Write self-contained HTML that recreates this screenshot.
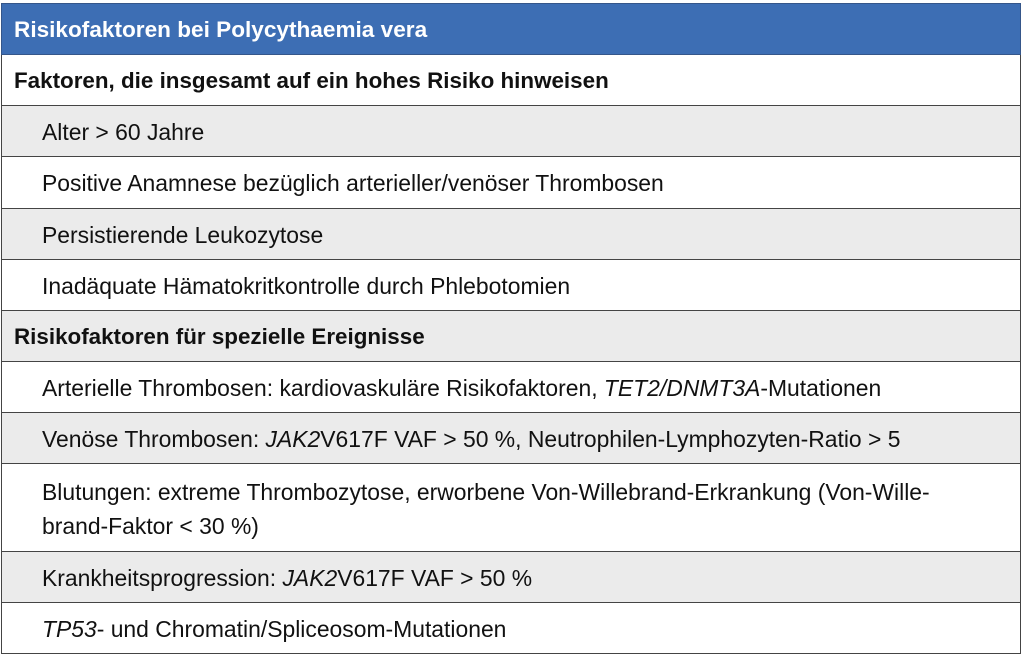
<!DOCTYPE html>
<html><head><meta charset="utf-8"><style>
body{margin:0;width:1024px;height:670px;background:#fff;position:relative;font-family:"Liberation Sans",sans-serif;color:#111;overflow:hidden}
.r{position:absolute;left:1px;width:1020px;border:1px solid #444;border-top:none;box-sizing:border-box;font-size:22.9px;line-height:26px;white-space:nowrap}
.g{background:#ebebeb}
.h{background:#3d6eb4;color:#fff;top:3px;height:52px;border:1px solid #35568a;padding:13px 0 0 12px;font-size:22.6px;font-weight:bold}
.b{font-weight:bold;padding-left:12px;font-size:22.4px}
.n{padding-left:40px}
</style></head><body>
<div class="r h">Risikofaktoren bei Polycythaemia vera</div>
<div class="r b" style="top:55px;height:51px;padding-top:13px">Faktoren, die insgesamt auf ein hohes Risiko hinweisen</div>
<div class="r n g" style="top:106px;height:51px;padding-top:13px">Alter &gt; 60 Jahre</div>
<div class="r n" style="top:157px;height:52px;padding-top:13px">Positive Anamnese bezüglich arterieller/venöser Thrombosen</div>
<div class="r n g" style="top:209px;height:51px;padding-top:13px">Persistierende Leukozytose</div>
<div class="r n" style="top:260px;height:51px;padding-top:13px">Inadäquate Hämatokritkontrolle durch Phlebotomien</div>
<div class="r b g" style="top:311px;height:51px;padding-top:13px">Risikofaktoren für spezielle Ereignisse</div>
<div class="r n" style="top:362px;height:51px;padding-top:13px">Arterielle Thrombosen: kardiovaskuläre Risikofaktoren, <i>TET2/DNMT3A</i>-Mutationen</div>
<div class="r n g" style="top:413px;height:51px;padding-top:13px">Venöse Thrombosen: <i>JAK2</i>V617F VAF &gt; 50 %, Neutrophilen-Lymphozyten-Ratio &gt; 5</div>
<div class="r n" style="top:464px;height:88px;padding-top:11px;line-height:34px">Blutungen: extreme Thrombozytose, erworbene Von-Willebrand-Erkrankung (Von-Wille-<br>brand-Faktor &lt; 30 %)</div>
<div class="r n g" style="top:552px;height:51px;padding-top:13px">Krankheitsprogression: <i>JAK2</i>V617F VAF &gt; 50 %</div>
<div class="r n" style="top:603px;height:51px;padding-top:13px"><i>TP53</i>- und Chromatin/Spliceosom-Mutationen</div>
</body></html>
